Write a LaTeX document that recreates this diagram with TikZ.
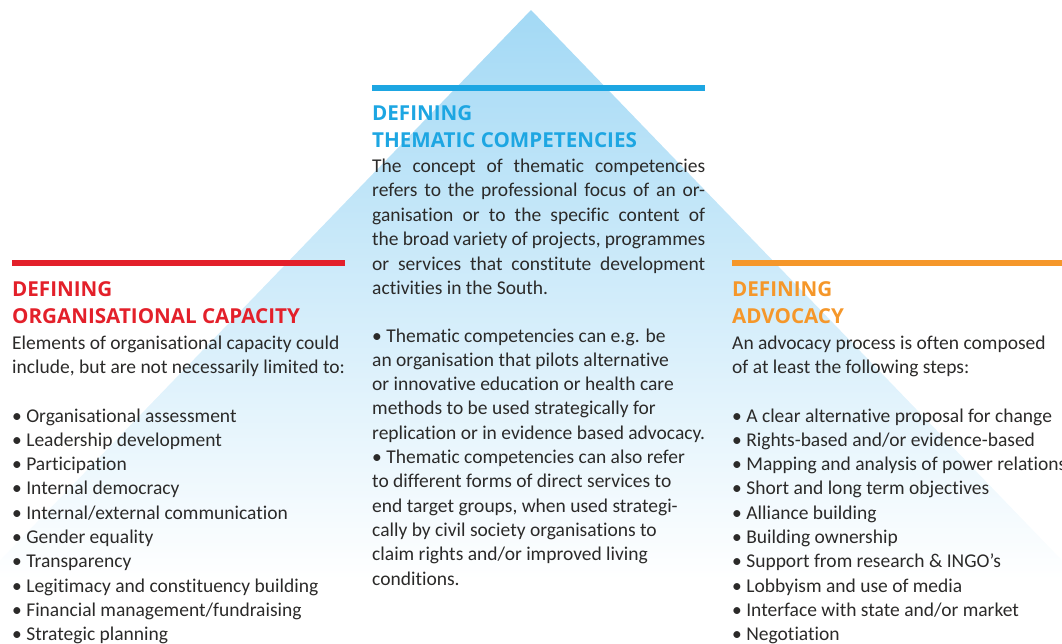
\documentclass[tikz,border=0pt]{standalone}
\usepackage{fontspec}
\setmainfont{Carlito}[Ligatures=NoCommon]
\newfontfamily\headfont{Open Sans}
\definecolor{capred}{HTML}{E3202A}
\definecolor{thmblue}{HTML}{1DA6E2}
\definecolor{advorange}{HTML}{F5972A}
\definecolor{pyrblue}{HTML}{A3D9F5}
\definecolor{bodygray}{HTML}{2B2A29}
\tikzset{
  headbar/.style={line width=6pt},
  heading/.style={anchor=base west, inner sep=0pt, font=\headfont\fontsize{20.6}{27}\selectfont\bfseries},
  txt/.style={anchor=base west, inner sep=0pt, text=bodygray, font=\fontsize{19.5}{24}\selectfont}
}
\begin{document}
\begin{tikzpicture}[x=1pt,y=-1pt]
      \useasboundingbox (0,0) rectangle (1062,643);
      \clip (0,0) rectangle (1062,643);
      % pyramid
      \shade[top color=pyrblue, bottom color=white] (531,10) -- (1081,580) -- (-19,580) -- cycle;
      % bars
      \draw[headbar, capred] (12,263) -- (345,263);
      \draw[headbar, thmblue] (372,88) -- (705,88);
      \draw[headbar, advorange] (732,263) -- (1062,263);
      % organisational capacity
      \draw
        (12,296) node[heading, text=capred] (capH1) {DEFINING}
        (12,323) node[heading, text=capred] (capH2) {ORGANISATIONAL CAPACITY}
        (12,349) node[txt] (capT1) {Elements of organisational capacity could}
        (12,373) node[txt] (capT2) {include, but are not necessarily limited to:}
        (12,422) node[txt] (cap1) {\textbullet\ Organisational assessment}
        (12,446.3) node[txt] (cap2) {\textbullet\ Leadership development}
        (12,470.6) node[txt] (cap3) {\textbullet\ Participation}
        (12,494.9) node[txt] (cap4) {\textbullet\ Internal democracy}
        (12,519.2) node[txt] (cap5) {\textbullet\ Internal/external communication}
        (12,543.5) node[txt] (cap6) {\textbullet\ Gender equality}
        (12,567.8) node[txt] (cap7) {\textbullet\ Transparency}
        (12,592.1) node[txt] (cap8) {\textbullet\ Legitimacy and constituency building}
        (12,616.4) node[txt] (cap9) {\textbullet\ Financial management/fundraising}
        (12,640.7) node[txt] (cap10) {\textbullet\ Strategic planning};
      % thematic competencies
      \draw
        (372,120) node[heading, text=thmblue] (thmH1) {DEFINING}
        (372,147) node[heading, text=thmblue] (thmH2) {THEMATIC COMPETENCIES}
        (372,172) node[txt] (thmT1) {\makebox[333pt][s]{The concept of thematic competencies}}
        (372,196.5) node[txt] (thmT2) {\makebox[333pt][s]{refers to the professional focus of an or-}}
        (372,221) node[txt] (thmT3) {\makebox[333pt][s]{ganisation or to the specific content of}}
        (372,245.5) node[txt] (thmT4) {\makebox[333pt][s]{the broad variety of projects, programmes}}
        (372,270) node[txt] (thmT5) {\makebox[333pt][s]{or services that constitute development}}
        (372,294) node[txt] (thmT6) {activities in the South.}
        (372,342) node[txt] (thm1) {\textbullet\ Thematic competencies can e.g. be}
        (372,366.3) node[txt] (thm2) {an organisation that pilots alternative}
        (372,390.6) node[txt] (thm3) {or innovative education or health care}
        (372,414.9) node[txt] (thm4) {methods to be used strategically for}
        (372,439.2) node[txt] (thm5) {replication or in evidence based advocacy.}
        (372,463.5) node[txt] (thm6) {\textbullet\ Thematic competencies can also refer}
        (372,487.8) node[txt] (thm7) {to different forms of direct services to}
        (372,512.1) node[txt] (thm8) {end target groups, when used strategi-}
        (372,536.4) node[txt] (thm9) {cally by civil society organisations to}
        (372,560.7) node[txt] (thm10) {claim rights and/or improved living}
        (372,585) node[txt] (thm11) {conditions.};
      % advocacy
      \draw
        (732,296) node[heading, text=advorange] (advH1) {DEFINING}
        (732,323) node[heading, text=advorange] (advH2) {ADVOCACY}
        (732,349) node[txt] (advT1) {An advocacy process is often composed}
        (732,373) node[txt] (advT2) {of at least the following steps:}
        (732,422) node[txt] (adv1) {\textbullet\ A clear alternative proposal for change}
        (732,446.3) node[txt] (adv2) {\textbullet\ Rights-based and/or evidence-based}
        (732,470.6) node[txt] (adv3) {\textbullet\ Mapping and analysis of power relations}
        (732,494.9) node[txt] (adv4) {\textbullet\ Short and long term objectives}
        (732,519.2) node[txt] (adv5) {\textbullet\ Alliance building}
        (732,543.5) node[txt] (adv6) {\textbullet\ Building ownership}
        (732,567.8) node[txt] (adv7) {\textbullet\ Support from research \& INGO’s}
        (732,592.1) node[txt] (adv8) {\textbullet\ Lobbyism and use of media}
        (732,616.4) node[txt] (adv9) {\textbullet\ Interface with state and/or market}
        (732,640.7) node[txt] (adv10) {\textbullet\ Negotiation};
    \end{tikzpicture}
\end{document}
